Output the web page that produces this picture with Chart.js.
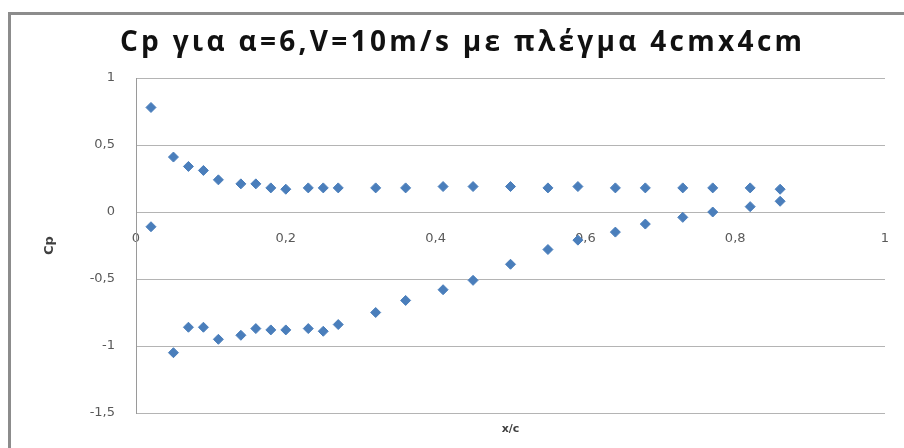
<!DOCTYPE html>
<html>
<head>
<meta charset="utf-8">
<script src="https://cdn.jsdelivr.net/npm/chart.js@4/dist/chart.umd.min.js"></script>
<style>
  html, body { margin: 0; padding: 0; background: #fff; overflow: hidden; }
  #frame {
    position: absolute; left: 8px; top: 12px;
    width: 920px; height: 460px;
    border: 3px solid #8c8c8c; background: #fff;
  }
  #box { position: relative; width: 893px; height: 433px; }
</style>
</head>
<body>
<div id="frame"><div id="box"><canvas id="cp"></canvas></div></div>
<script>
// x/c stations of the pressure taps
const xc = [0.02, 0.05, 0.07, 0.09, 0.11, 0.14, 0.16, 0.18, 0.20, 0.23, 0.25, 0.27,
            0.32, 0.36, 0.41, 0.45, 0.50, 0.55, 0.59, 0.64, 0.68, 0.73, 0.77, 0.82, 0.86];
// Cp on the two surfaces
const cpUpper = [0.78, 0.41, 0.34, 0.31, 0.24, 0.21, 0.21, 0.18, 0.17, 0.18, 0.18, 0.18,
                 0.18, 0.18, 0.19, 0.19, 0.19, 0.18, 0.19, 0.18, 0.18, 0.18, 0.18, 0.18, 0.17];
const cpLower = [-0.11, -1.05, -0.86, -0.86, -0.95, -0.92, -0.87, -0.88, -0.88, -0.87, -0.89, -0.84,
                 -0.75, -0.66, -0.58, -0.51, -0.39, -0.28, -0.21, -0.15, -0.09, -0.04, 0.00, 0.04, 0.08];
const xTicks = [0, 0.2, 0.4, 0.6, 0.8, 1];
const yTicks = [1, 0.5, 0, -0.5, -1, -1.5];

const titleText = 'Cp για α=6,V=10m/s με πλέγμα 4cmx4cm';
const markerColor = '#4a7ebb';

function toPoints(ys) {
    return xc.map((x, i) => ({ x: x, y: ys[i] }));
}

function comma(v) {
    return String(v).replace('.', ',');
}

function noSidePadding(scale) {
    scale.paddingLeft = 0;
    scale.paddingRight = 0;
}

// the original title is a wide bold face, so draw it with some letter spacing
const wideTitle = {
    id: 'wideTitle',
    afterDraw(chart, args, opts) {
        const ctx = chart.ctx;
        ctx.save();
        ctx.font = 'bold 28px "Open Sans"';
        ctx.letterSpacing = opts.spacing + 'px';
        ctx.fillStyle = '#111';
        ctx.textAlign = 'center';
        ctx.textBaseline = 'alphabetic';
        ctx.fillText(opts.text, opts.x + opts.spacing / 2, opts.y);
        ctx.restore();
    }
};

const chart = new Chart(document.getElementById('cp'), {
    type: 'scatter',
    data: {
        datasets: [
            { data: toPoints(cpUpper) },
            { data: toPoints(cpLower) }
        ]
    },
    options: {
        responsive: true,
        maintainAspectRatio: false,
        animation: false,
        layout: { padding: { top: 63, right: 19, bottom: 0, left: 0 } },
        elements: {
            point: {
                pointStyle: 'rectRot',
                radius: 5,
                backgroundColor: markerColor,
                borderColor: markerColor,
                borderWidth: 1
            }
        },
        plugins: {
            legend: { display: false },
            tooltip: { enabled: false },
            title: { display: false },
            wideTitle: { text: titleText, spacing: 3.3, x: 450, y: 36 }
        },
        scales: {
            x: {
                type: 'linear',
                position: { y: 0 },
                min: 0,
                max: 1,
                afterBuildTicks: (scale) => { scale.ticks = xTicks.map(v => ({ value: v })); },
                afterFit: noSidePadding,
                grid: { display: false, drawTicks: false },
                border: { display: false },
                ticks: {
                    padding: 19,
                    color: '#595959',
                    font: { family: 'DejaVu Sans', size: 13 },
                    callback: (v) => comma(v)
                }
            },
            x2: {
                type: 'linear',
                position: 'bottom',
                min: 0,
                max: 1,
                grid: { display: false, drawTicks: false },
                border: { display: false },
                ticks: { display: false },
                afterFit: (scale) => { noSidePadding(scale); scale.height = 35; },
                title: {
                    display: true,
                    text: 'x/c',
                    color: '#404040',
                    font: { family: 'DejaVu Sans', size: 11, weight: 'bold' },
                    padding: { top: 0, bottom: 12 }
                }
            },
            y: {
                type: 'linear',
                min: -1.5,
                max: 1,
                afterBuildTicks: (scale) => { scale.ticks = yTicks.map(v => ({ value: v })); },
                afterFit: (scale) => { scale.width = 125; },
                grid: { color: '#b4b4b4', lineWidth: 1, drawTicks: false },
                border: { display: true, color: '#9a9a9a', width: 1 },
                ticks: {
                    padding: 21,
                    color: '#595959',
                    font: { family: 'DejaVu Sans', size: 13 },
                    callback: (v) => comma(v)
                },
                title: {
                    display: true,
                    text: 'Cp',
                    color: '#404040',
                    font: { family: 'DejaVu Sans', size: 13, weight: 'bold' },
                    padding: { top: 31, bottom: 0 }
                }
            }
        }
    },
    plugins: [wideTitle]
});
</script>
</body>
</html>
